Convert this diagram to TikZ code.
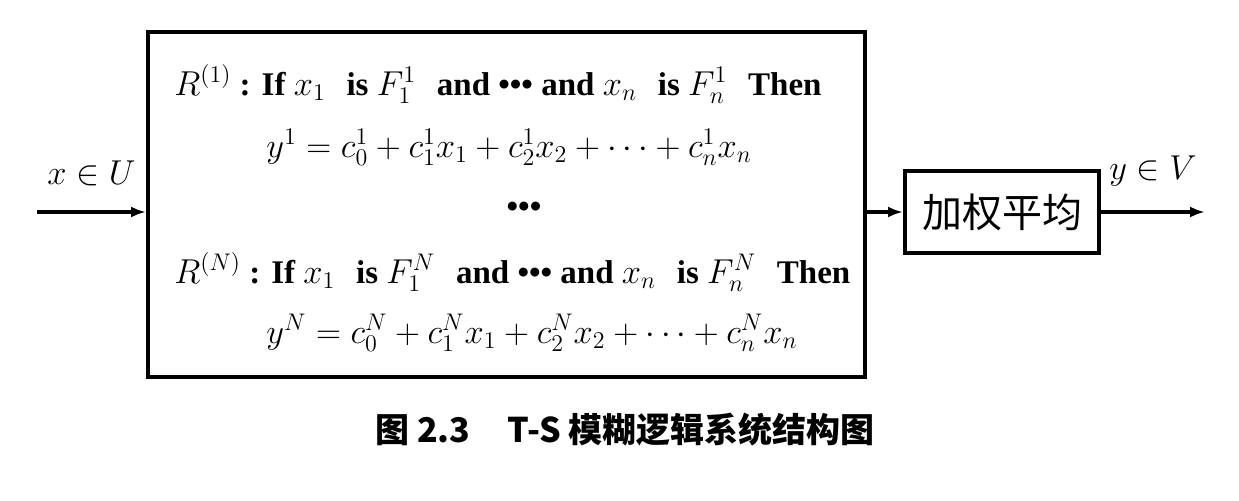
\documentclass[tikz,border=0pt]{standalone}
\usepackage{fontspec}
\setmainfont{Liberation Serif}
\newfontfamily\cjk{Noto Sans CJK SC}
\usetikzlibrary{positioning,arrows.meta}

\tikzset{
    flow/.style={-{Latex[length=7.5pt,width=5.5pt]}, line width=2pt},
    block/.style={draw, line width=2pt, inner sep=0pt},
    ruleline/.style={anchor=base west, inner sep=0pt,
        font=\fontsize{16.5}{20}\selectfont\bfseries},
    iolabel/.style={inner sep=0pt, font=\fontsize{17}{20}\selectfont},
}
\newcommand{\gap}{\hspace{0.63em}}

\begin{document}
\begin{tikzpicture}[x=0.5pt,y=-0.5pt]
        \useasboundingbox (0,0) rectangle (1239,500);

        % rule base
        \node (rulebox) [block, minimum width=358.5pt, minimum height=172.5pt]
            at (506.5,204.5) {};
        \node (r1) [ruleline] at (174,95)
            {$R^{(1)}$ : If $x_1$\gap is $F_1^1$\gap and ••• and $x_n$\gap is $F_n^1$\gap Then};
        \node (y1) [ruleline] at (266,157)
            {$y^1=c_0^1+c_1^1x_1+c_2^1x_2+\cdots+c_n^1x_n$};
        \node (dots) [inner sep=0pt, font=\fontsize{16.5}{20}\selectfont\bfseries]
            at (524,210) {•••};
        \node (rN) [ruleline] at (174,283)
            {$R^{(N)}$ : If $x_1$\gap is $F_1^N$\gap and ••• and $x_n$\gap is $F_n^N$\gap Then};
        \node (yN) [ruleline] at (266,343)
            {$y^N=c_0^N+c_1^Nx_1+c_2^Nx_2+\cdots+c_n^Nx_n$};

        % weighted average
        \node (avg) [block, minimum width=97pt, minimum height=41pt,
            font=\cjk\fontsize{20}{24}\selectfont] at (1002,212) {加权平均};

        \coordinate (in) at (37,212);
        \coordinate (out) at (1205,212);

        \draw[flow] (in) -- node[iolabel, above=12pt] {$x\in U$} (in -| rulebox.west);
        \draw[flow] (avg.west -| rulebox.east) -- (avg.west);
        \draw[flow] (avg.east) -- node[iolabel, above=12pt] {$y\in V$} (out);

        % caption
        \node (caption) [font=\cjk\bfseries\fontsize{17}{20}\selectfont]
            at (625,430) {图 2.3\hspace{1.1em}T-S 模糊逻辑系统结构图};
    \end{tikzpicture}
\end{document}
